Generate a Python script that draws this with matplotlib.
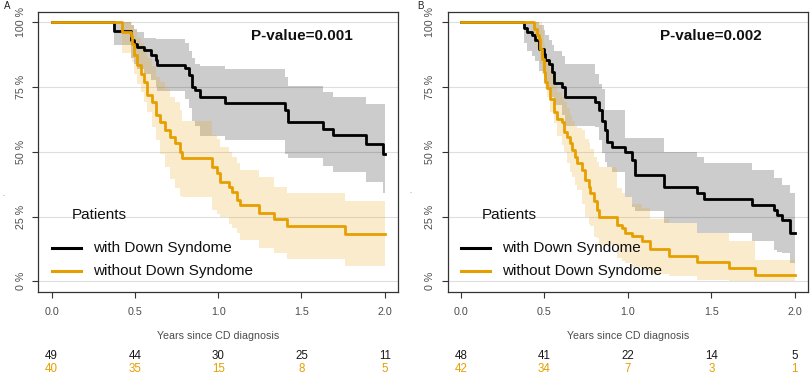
import matplotlib
matplotlib.use("Agg")
import matplotlib.pyplot as plt
import matplotlib.transforms as mtransforms
from matplotlib.lines import Line2D
import numpy as np

plt.rcParams['font.family'] = ['Liberation Sans', 'DejaVu Sans']

# ---------------- data ----------------
panel_labels = ["A", "B"]
p_values = ["P-value=0.001", "P-value=0.002"]
group_names = ["with Down Syndome", "without Down Syndome"]
legend_title = "Patients"
x_label = "Years since CD diagnosis"
x_ticks = [0.0, 0.5, 1.0, 1.5, 2.0]
x_tick_labels = ["0.0", "0.5", "1.0", "1.5", "2.0"]
y_ticks = [0, 25, 50, 75, 100]
y_tick_labels = ["0 %", "25 %", "50 %", "75 %", "100 %"]

# Panel A - with Down syndrome
a_ds_t = [0, 0.374, 0.474, 0.494, 0.514, 0.553, 0.594, 0.624, 0.634, 0.803, 0.823, 0.843,
          0.863, 0.893, 1.043, 1.400, 1.417, 1.629, 1.690, 1.887, 1.990]
a_ds_s = [100, 96.5, 93.0, 91.5, 90.4, 89.1, 87.2, 85.5, 83.6, 82.1, 79.5, 75.0,
          73.7, 71.2, 68.6, 66.0, 61.3, 58.7, 56.4, 53.0, 49.1]
a_ds_hi = [100, 100, 98.7, 97.5, 96.0, 94.0, 93.8, 93.6, 93.6, 92.0, 89.0, 86.0,
           84.0, 83.0, 82.0, 79.0, 75.5, 73.0, 71.0, 68.5, 68.5]
a_ds_lo = [100, 91.0, 86.0, 84.0, 82.0, 80.0, 77.5, 75.0, 73.5, 70.5, 67.0, 62.0,
           60.0, 56.0, 54.5, 49.0, 47.5, 44.5, 42.0, 38.5, 34.0]

# Panel A - without Down syndrome
a_no_t = [0, 0.424, 0.474, 0.484, 0.494, 0.514, 0.534, 0.553, 0.574, 0.604, 0.624, 0.653,
          0.683, 0.713, 0.743, 0.773, 0.784, 0.963, 0.993, 1.013, 1.063, 1.083, 1.113,
          1.133, 1.243, 1.333, 1.413, 1.763]
a_no_s = [100, 96.2, 94.5, 91.7, 87.2, 83.3, 80.1, 76.9, 71.8, 69.2, 64.1, 61.5,
          58.3, 55.8, 53.2, 50.0, 47.7, 44.2, 41.7, 38.5, 36.5, 34.6, 31.4,
          29.3, 26.5, 24.0, 21.4, 18.3]
a_no_hi = [100, 100, 100, 99.0, 97.0, 94.0, 92.0, 90.0, 86.0, 83.0, 79.0, 77.0,
           74.0, 71.0, 69.0, 66.0, 62.0, 56.5, 55.0, 52.0, 50.0, 48.0, 45.5,
           43.0, 40.4, 36.5, 34.0, 30.8]
a_no_lo = [100, 88.0, 86.0, 84.6, 80.0, 76.0, 73.0, 69.0, 65.4, 59.6, 54.5, 49.0,
           44.0, 39.5, 36.0, 33.0, 32.7, 27.6, 26.0, 25.0, 22.0, 20.5, 18.7,
           16.0, 13.0, 11.0, 8.6, 6.0]

# Panel B - with Down syndrome
b_ds_t = [0, 0.375, 0.396, 0.426, 0.445, 0.465, 0.495, 0.505, 0.525, 0.546, 0.555, 0.605,
          0.625, 0.805, 0.825, 0.845, 0.865, 0.875, 0.905, 0.985, 1.025, 1.045, 1.215,
          1.415, 1.455, 1.745, 1.874, 1.895, 1.924, 1.974]
b_ds_s = [100, 97.9, 96.0, 94.9, 93.0, 89.8, 87.8, 85.3, 84.0, 80.8, 76.5, 75.0,
          71.2, 69.2, 66.0, 62.0, 58.3, 53.8, 51.9, 50.0, 46.8, 41.0, 36.4,
          34.2, 31.8, 29.5, 27.6, 25.6, 23.7, 18.6]
b_ds_hi = [100, 100, 100, 100, 100, 99.0, 97.0, 95.0, 93.0, 91.0, 89.0, 87.0,
           84.0, 80.0, 76.0, 74.0, 66.0, 66.0, 66.0, 55.2, 55.2, 55.2, 50.0,
           48.1, 45.5, 43.0, 39.8, 39.8, 37.2, 34.0]
b_ds_lo = [100, 92.0, 89.0, 87.0, 85.0, 81.0, 79.0, 76.0, 74.0, 71.0, 68.0, 64.0,
           60.0, 59.6, 54.5, 49.4, 46.0, 44.2, 42.0, 32.7, 28.8, 27.0, 22.5,
           18.6, 18.6, 15.4, 12.0, 11.5, 10.9, 7.2]

# Panel B - without Down syndrome
b_no_t = [0, 0.435, 0.456, 0.465, 0.475, 0.486, 0.495, 0.505, 0.516, 0.535, 0.555, 0.575,
          0.605, 0.615, 0.635, 0.655, 0.665, 0.685, 0.695, 0.725, 0.745, 0.765, 0.775,
          0.795, 0.815, 0.825, 0.935, 0.965, 0.985, 1.025, 1.085, 1.135, 1.245, 1.415,
          1.605, 1.765]
b_no_s = [100, 97.4, 95.2, 93.6, 89.8, 85.9, 80.8, 76.9, 74.4, 70.5, 65.4, 62.8,
          61.5, 57.7, 55.8, 53.2, 50.7, 48.1, 45.5, 43.0, 39.1, 36.5, 34.0,
          30.8, 27.6, 25.0, 21.8, 20.5, 18.6, 17.3, 15.4, 12.5, 9.9, 7.3,
          5.0, 2.3]
b_no_hi = [100, 100, 100, 100, 100, 97.0, 92.0, 88.0, 85.0, 81.0, 76.0, 73.0,
           71.0, 69.0, 67.0, 64.0, 62.0, 60.0, 59.0, 58.3, 55.0, 53.2, 51.0,
           48.1, 46.0, 44.2, 36.0, 34.0, 32.7, 30.0, 28.3, 24.0, 22.5, 18.6,
           15.4, 8.3]
b_no_lo = [100, 92.0, 90.0, 88.0, 84.0, 80.0, 77.0, 74.0, 71.0, 65.4, 61.0, 56.0,
           52.6, 50.0, 45.5, 42.0, 40.4, 37.0, 35.3, 30.0, 25.0, 22.0, 21.2,
           17.0, 16.7, 14.0, 9.0, 8.0, 7.0, 5.5, 4.5, 3.0, 1.9, 0.5,
           0.0, 0.0]

# numbers at risk
risk_a_ds = ["49", "44", "30", "25", "11"]
risk_a_no = ["40", "35", "15", "8", "5"]
risk_b_ds = ["48", "41", "22", "14", "5"]
risk_b_no = ["42", "34", "7", "3", "1"]

# ---------------- style ----------------
c_ds = "#000000"
c_no = "#E69F00"
band_alpha = 0.2
t_end = 2.0

W, H = 810, 374
fig = plt.figure(figsize=(W / 100, H / 100), dpi=100)

def fx(px):
    return px / W

def fy(py):
    return 1 - py / H

panels = [
    dict(left=38.3, right=398.0, lab=panel_labels[0], labx=7,
         curves=[(a_ds_t, a_ds_s, a_ds_lo, a_ds_hi, c_ds), (a_no_t, a_no_s, a_no_lo, a_no_hi, c_no)],
         risk=[risk_a_ds, risk_a_no], p=p_values[0]),
    dict(left=447.7, right=808.0, lab=panel_labels[1], labx=420,
         curves=[(b_ds_t, b_ds_s, b_ds_lo, b_ds_hi, c_ds), (b_no_t, b_no_s, b_no_lo, b_no_hi, c_no)],
         risk=[risk_b_ds, risk_b_no], p=p_values[1]),
]

top_px, bot_px = 11.7, 291.7
text_gray = "#4D4D4D"

for pn in panels:
    ax = fig.add_axes([fx(pn["left"]), fy(bot_px), fx(pn["right"] - pn["left"]), (bot_px - top_px) / H])
    ax.set_xlim(-0.08, 2.08)
    ax.set_ylim(-4, 104)
    for yv in y_ticks:
        ax.axhline(yv, color="#DEDEDE", lw=0.8, zorder=0)
    for (t, s, lo, hi, col) in pn["curves"]:
        tt = list(t) + [t_end]
        ax.fill_between(tt, list(lo) + [lo[-1]], list(hi) + [hi[-1]], step="post",
                        color=col, alpha=band_alpha, lw=0, zorder=1)
    for (t, s, lo, hi, col) in pn["curves"]:
        tt = list(t) + [t_end]
        ax.step(tt, list(s) + [s[-1]], where="post", color=col, lw=2.0, zorder=3)
    for sp in ax.spines.values():
        sp.set_color("#333333")
        sp.set_linewidth(0.9)
    ax.set_xticks(x_ticks)
    ax.set_xticklabels(x_tick_labels)
    ax.set_yticks(y_ticks)
    ax.set_yticklabels(y_tick_labels, rotation=90, va="center")
    ax.tick_params(axis="both", colors="#333333", labelcolor=text_gray, labelsize=7.7,
                   length=4, width=0.8)
    ax.tick_params(axis="x", pad=7)
    ax.tick_params(axis="y", pad=5)
    ax.set_xlabel(x_label, fontsize=7.7, color=text_gray, labelpad=10)

    ax.text(1.5, 94.8, pn["p"], fontsize=11, fontweight="bold", ha="center", va="center",
            color="#111111")

    # legend (manual)
    ax.text(0.094, 0.274, legend_title, transform=ax.transAxes, fontsize=11,
            ha="left", va="center", color="#111111")
    for i, (name, col) in enumerate(zip(group_names, [c_ds, c_no])):
        yy = 0.155 - i * 0.08
        ax.add_line(Line2D([0.038, 0.118], [yy, yy], transform=ax.transAxes, color=col, lw=2.2))
        ax.text(0.152, yy, name, transform=ax.transAxes, fontsize=11, ha="left",
                va="center", color="#111111")

    # risk table
    trans = mtransforms.blended_transform_factory(ax.transData, fig.transFigure)
    for row, col, py in zip(pn["risk"], [ "#1A1A1A", c_no], [356, 369]):
        for xv, val in zip(x_ticks, row):
            ax.text(xv, fy(py), val, transform=trans, fontsize=8.3, ha="center",
                    va="center", color=col, clip_on=False)

    fig.text(fx(pn["labx"]), fy(6), pn["lab"], fontsize=7, ha="center", va="center",
             color="#222222")

fig.text(fx(3), fy(194), ".", fontsize=5, color="#666666", ha="center", va="center")
fig.text(fx(410), fy(191), ".", fontsize=5, color="#666666", ha="center", va="center")

fig.savefig("out.png", dpi=100)
